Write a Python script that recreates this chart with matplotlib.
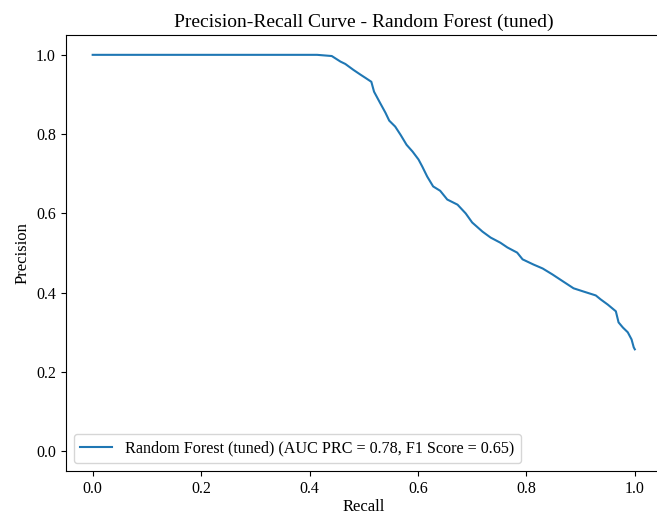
import matplotlib
matplotlib.use('Agg')
import matplotlib.pyplot as plt

plt.rcParams['font.family'] = ['Liberation Serif', 'DejaVu Serif']

# precision-recall points for the tuned random forest
recall = [0.0, 0.414, 0.441, 0.457, 0.466, 0.481, 0.494, 0.503, 0.514, 0.519,
          0.530, 0.540, 0.547, 0.558, 0.568, 0.579, 0.590, 0.601, 0.608, 0.617,
          0.628, 0.641, 0.654, 0.673, 0.688, 0.700, 0.719, 0.734, 0.752, 0.765,
          0.783, 0.793, 0.813, 0.830, 0.848, 0.868, 0.887, 0.905, 0.928, 0.937,
          0.950, 0.965, 0.970, 0.978, 0.987, 0.994, 0.998, 1.0]
precision = [1.0, 1.0, 0.997, 0.983, 0.977, 0.962, 0.950, 0.942, 0.932, 0.907,
             0.879, 0.854, 0.834, 0.819, 0.798, 0.773, 0.756, 0.736, 0.718, 0.693,
             0.668, 0.657, 0.635, 0.622, 0.600, 0.577, 0.554, 0.539, 0.526, 0.514,
             0.501, 0.484, 0.471, 0.461, 0.446, 0.428, 0.411, 0.403, 0.393, 0.383,
             0.370, 0.353, 0.325, 0.312, 0.300, 0.282, 0.262, 0.257]

model_name = 'Random Forest (tuned)'
auc_prc = 0.78
f1 = 0.65

fig = plt.figure(figsize=(6.57, 5.15), dpi=100)
ax = fig.add_axes([0.0998, 0.0854, 0.9077, 0.8466])

ax.plot(recall, precision, label=f'{model_name} (AUC PRC = {auc_prc:.2f}, F1 Score = {f1:.2f})')
ax.set_xlim(-0.05, 1.05)
ax.set_ylim(-0.05, 1.05)
ax.set_xlabel('Recall', fontsize=12, labelpad=1.5)
ax.set_ylabel('Precision', fontsize=12)
ax.set_title(f'Precision-Recall Curve - {model_name}', fontsize=14)
ax.tick_params(labelsize=11.5)
ax.spines['right'].set_visible(False)  # sits past the figure edge anyway
ax.legend(loc='lower left', fontsize=11.6)

fig.savefig('out.png', dpi=100)
